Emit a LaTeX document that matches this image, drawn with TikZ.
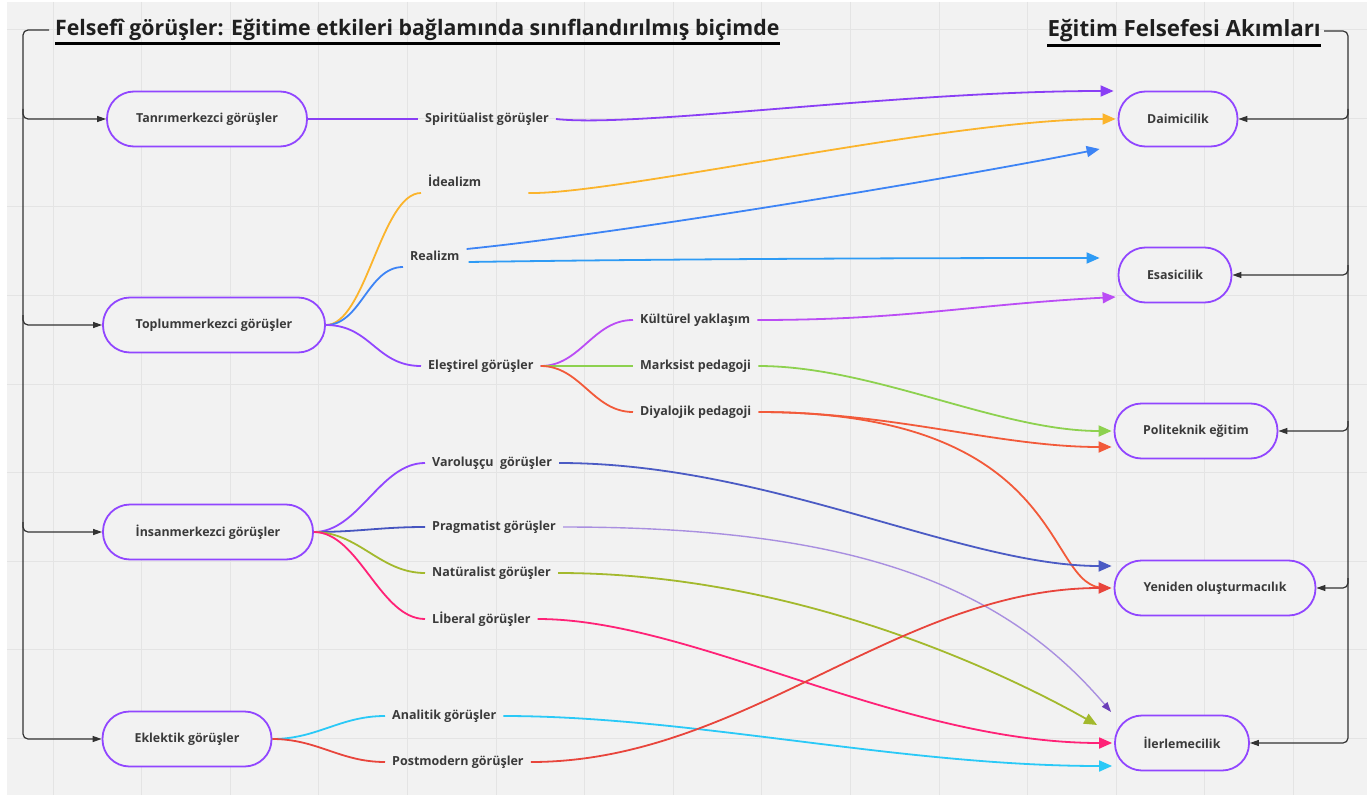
\documentclass[tikz,border=0pt]{standalone}
\usepackage{fontspec}
\setmainfont{Open Sans}
\usetikzlibrary{positioning,calc,arrows.meta}
\definecolor{bgcol}{HTML}{F2F2F2}
\definecolor{gridcol}{HTML}{E4E4E4}
\definecolor{txtcol}{HTML}{3A3A3A}
\definecolor{kenar}{HTML}{9146FF}
\definecolor{mor}{HTML}{8A3FF5}
\definecolor{turuncu}{HTML}{FBB42C}
\definecolor{mavi}{HTML}{3D84F5}
\definecolor{acikmavi}{HTML}{2E9BF5}
\definecolor{eflatun}{HTML}{BB4DF5}
\definecolor{yesil}{HTML}{8DD14F}
\definecolor{kiremit}{HTML}{F25A3A}
\definecolor{lacivert}{HTML}{4B5BC4}
\definecolor{indigo}{HTML}{4655C0}
\definecolor{lavanta}{HTML}{A98FE0}
\definecolor{pragtip}{HTML}{6A3DB8}
\definecolor{zeytin}{HTML}{A3B92D}
\definecolor{pembe}{HTML}{FF2277}
\definecolor{camgobegi}{HTML}{2AC9F7}
\definecolor{kirmizi}{HTML}{E8453C}

\begin{document}
\begin{tikzpicture}[x=1pt, y=-1pt,
        akim/.style={draw=kenar, line width=1.8pt, fill=bgcol, rounded corners=27pt,
            minimum height=55pt, text=txtcol, font=\fontsize{12.4}{15}\selectfont\bfseries},
        etiket/.style={anchor=west, inner xsep=7pt, inner ysep=2pt, text=txtcol,
            font=\fontsize{12.5}{15}\selectfont\bfseries},
        baslik/.style={inner sep=0pt, text=black!88, font=\fontsize{#1}{26}\selectfont\bfseries},
        dal/.style={draw=#1, line width=1.8pt},
        ok/.style={draw=#1, line width=1.8pt, -{Triangle[length=13pt,width=11pt]}},
        brk/.style={draw=black!80, line width=1.2pt, rounded corners=5pt},
        brkok/.style={brk, -{Triangle[length=9pt,width=6pt]}},
        izgara/.style={draw=gridcol, line width=0.8pt}
    ]
        \useasboundingbox (0,0) rectangle (1371,797);
        \fill[white] (0,0) rectangle (1371,797);
        \fill[bgcol] (7,2) rectangle (1367,795);
        \foreach \i in {0,...,14} \draw[izgara] ({53+88.6*\i},2) -- ++(0,793);
        \foreach \j in {0,...,8} \draw[izgara] (7,{29.5+88.6*\j}) -- ++(1360,0);

        % basliklar
        \node[baslik=21.3, anchor=west] (ltitle) at (55,30) {Felsefî görüşler: Eğitime etkileri bağlamında sınıflandırılmış biçimde};
        \node[baslik=22.3, anchor=east] (rtitle) at (1321,31) {Eğitim Felsefesi Akımları};
        \draw[line width=3pt] ([yshift=-3pt]ltitle.south west) -- ([yshift=-3pt]ltitle.south east);
        \draw[line width=3pt] ([yshift=-3pt]rtitle.south west) -- ([yshift=-3pt]rtitle.south east);

        % felsefi gorusler
        \node[akim, minimum width=200pt] (tanri) at (207,119) {Tanrımerkezci görüşler};
        \node[akim, minimum width=222pt] (toplum) at (214,325) {Toplummerkezci görüşler};
        \node[akim, minimum width=210pt] (insan) at (208,532) {İnsanmerkezci görüşler};
        \node[akim, minimum width=169pt] (eklek) at (187,739) {Eklektik görüşler};

        % egitim felsefesi akimlari
        \node[akim, minimum width=119pt] (daimi) at (1178,119) {Daimicilik};
        \node[akim, minimum width=113pt] (esasi) at (1175,275) {Esasicilik};
        \node[akim, minimum width=163pt] (polit) at (1196,431) {Politeknik eğitim};
        \node[akim, minimum width=201pt] (yeni) at (1215,588) {Yeniden oluşturmacılık};
        \node[akim, minimum width=134pt] (ileri) at (1182,743) {İlerlemecilik};

        % ara gorusler
        \node[etiket] (spirit) at (418,119) {Spiritüalist görüşler};
        \node[etiket] (ideal) at (421,181) {İdealizm};
        \node[etiket] (realizm) at (403,256) {Realizm};
        \node[etiket] (elest) at (421,366) {Eleştirel görüşler};
        \node[etiket] (kultur) at (633,320) {Kültürel yaklaşım};
        \node[etiket] (marks) at (633,366) {Marksist pedagoji};
        \node[etiket] (diyal) at (633,412) {Diyalojik pedagoji};
        \node[etiket] (varol) at (425,463) {Varoluşçu~~görüşler};
        \node[etiket] (prag) at (425,527) {Pragmatist görüşler};
        \node[etiket] (natur) at (425,573) {Natüralist görüşler};
        \node[etiket] (liberal) at (425,619) {Lİberal görüşler};
        \node[etiket] (analit) at (385,716) {Analitik görüşler};
        \node[etiket] (postm) at (385,762) {Postmodern görüşler};

        % sol ve sag cerceve
        \coordinate (lspine) at (23,400);
        \coordinate (rspine) at (1348,400);
        \draw[brkok] ([xshift=-6pt]ltitle.west) -| (eklek.west -| lspine) -- (eklek.west);
        \foreach \n in {tanri,toplum,insan}
            \draw[brkok] ($(lspine |- \n.west)+(0,-10)$) |- (\n.west);
        \draw[brkok] ([xshift=3pt]rtitle.east) -| (ileri.east -| rspine) -- (ileri.east);
        \foreach \n in {daimi,esasi,polit,yeni}
            \draw[brkok] ($(rspine |- \n.east)+(0,-10)$) |- (\n.east);

        % dallar
        \draw[dal=mor] (tanri.east) -- (spirit.west);
        \draw[dal=turuncu] (toplum.east) .. controls +(40,0) and +(-40,0) .. ([yshift=-12pt]ideal.west);
        \draw[dal=mavi] (toplum.east) .. controls +(35,0) and +(-35,0) .. ([yshift=-11pt]realizm.west);
        \draw[dal=kenar] (toplum.east) .. controls +(45,0) and +(-45,0) .. (elest.west);
        \draw[dal=eflatun] (elest.east) .. controls +(40,0) and +(-40,0) .. (kultur.west);
        \draw[dal=yesil] (elest.east) -- (marks.west);
        \draw[dal=kiremit] (elest.east) .. controls +(40,0) and +(-40,0) .. (diyal.west);
        \draw[dal=kenar] (insan.east) .. controls +(45,0) and +(-45,0) .. (varol.west);
        \draw[dal=indigo] (insan.east) .. controls +(45,0) and +(-45,0) .. (prag.west);
        \draw[dal=zeytin] (insan.east) .. controls +(45,0) and +(-45,0) .. (natur.west);
        \draw[dal=pembe] (insan.east) .. controls +(45,0) and +(-45,0) .. (liberal.west);
        \draw[dal=camgobegi] (eklek.east) .. controls +(45,0) and +(-45,0) .. (analit.west);
        \draw[dal=kirmizi] (eklek.east) .. controls +(45,0) and +(-45,0) .. (postm.west);

        % akimlara baglantilar
        \draw[ok=mor] (spirit.east) .. controls +(80,9) and +(-215,0) .. ([xshift=-4pt,yshift=28pt]daimi.west);
        \draw[ok=turuncu] ([xshift=40pt,yshift=-12pt]ideal.east) .. controls +(85,2) and +(-167,0) .. ([xshift=-2pt]daimi.west);
        \draw[ok=mavi] ([yshift=7pt]realizm.east) .. controls +(150,-15) and +(-150,30) .. ([xshift=-18pt,yshift=-30pt]daimi.west);
        \draw[ok=acikmavi] ([xshift=2pt,yshift=-6pt]realizm.east) .. controls +(200,-3) and +(-200,0) .. ([xshift=-18pt,yshift=17pt]esasi.west);
        \draw[ok=eflatun] (kultur.east) .. controls +(150,0) and +(-150,8) .. ([xshift=-2pt,yshift=-22pt]esasi.west);
        \draw[ok=yesil] (marks.east) .. controls +(115,0) and +(-113,0) .. ([xshift=-2pt]polit.west);
        \draw[ok=kiremit] (diyal.east) .. controls +(135,0) and +(-113,0) .. ([xshift=-2pt,yshift=-16pt]polit.west);
        \draw[dal=kiremit] (diyal.east) .. controls +(315,0) and +(-63,2) .. ([xshift=-8pt]yeni.west);
        \draw[ok=lacivert] (varol.east) .. controls +(210,0) and +(-150,0) .. ([xshift=-2pt,yshift=22pt]yeni.west);
        \draw[draw=lavanta, line width=1.4pt, -{Triangle[length=10pt,width=7pt,color=pragtip]}]
            (prag.east) .. controls +(280,0) and +(-112,-132) .. ([xshift=-3pt,yshift=31pt]ileri.west);
        \draw[ok=zeytin] (natur.east) .. controls +(235,0) and +(-98,-55) .. ([xshift=-17pt,yshift=18pt]ileri.west);
        \draw[ok=pembe] (liberal.east) .. controls +(155,0) and +(-213,0) .. ([xshift=-2pt]ileri.west);
        \draw[ok=camgobegi] (analit.east) .. controls +(188,0) and +(-213,0) .. ([xshift=-2pt,yshift=-23pt]ileri.west);
        \draw[ok=kirmizi] (postm.east) .. controls +(213,0) and +(-213,0) .. ([xshift=-2pt]yeni.west);
    \end{tikzpicture}
\end{document}
